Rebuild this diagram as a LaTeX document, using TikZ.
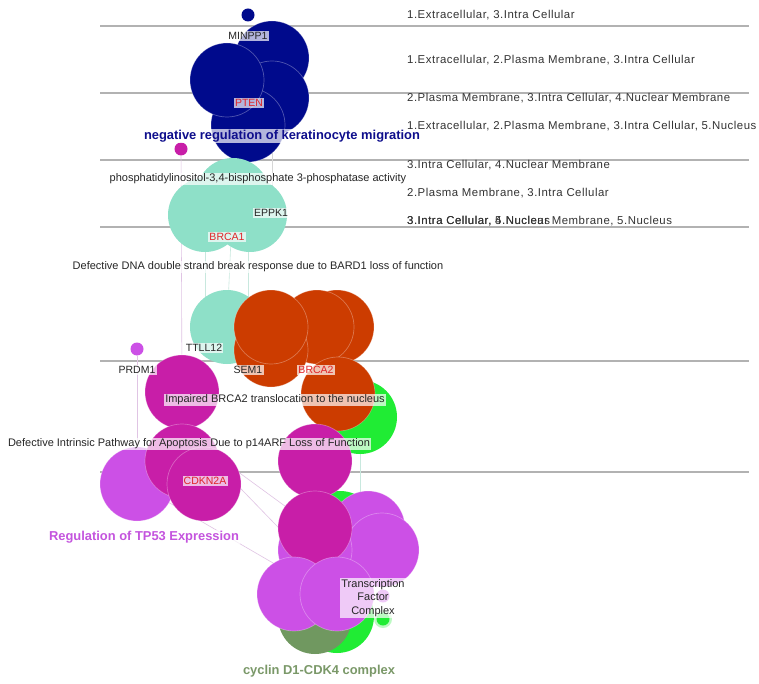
\documentclass[tikz,border=0pt]{standalone}
\usepackage{fontspec}
\setmainfont{Liberation Sans}
\newfontfamily\annfont[LetterSpace=4.5]{Liberation Sans}
\usetikzlibrary{backgrounds}

\definecolor{navy}{RGB}{0,10,140}
\definecolor{teal}{RGB}{142,224,200}
\definecolor{rust}{RGB}{204,60,0}
\definecolor{lime}{RGB}{32,236,52}
\definecolor{magenta}{RGB}{200,30,168}
\definecolor{lavender}{RGB}{204,80,230}
\definecolor{olive}{RGB}{112,152,96}
\definecolor{hitred}{RGB}{224,36,40}
\definecolor{navytext}{RGB}{14,14,140}
\definecolor{lavtext}{RGB}{196,84,222}
\definecolor{olivetext}{RGB}{122,152,104}
\definecolor{bandgray}{RGB}{178,178,178}
\definecolor{linklav}{RGB}{224,196,228}
\definecolor{linkteal}{RGB}{200,232,222}
\definecolor{linkgray}{RGB}{214,214,214}

\tikzset{
  gset/.style={circle, inner sep=0pt, minimum size=74pt, draw=white, draw opacity=0.3, line width=0.7pt},
  gdot/.style={circle, inner sep=0pt, minimum size=13pt},
  tag/.style={fill=white, fill opacity=0.7, text opacity=1, inner sep=1.2pt, text=black!85,
              font=\fontsize{10.5}{12}\selectfont},
  hit/.style={tag, text=hitred},
  term/.style={tag, font=\fontsize{11}{13}\selectfont},
  cluster/.style={tag, font=\bfseries\fontsize{12.9}{15}\selectfont},
  loc/.style={anchor=west, inner sep=0pt, text=black!80, font=\annfont\fontsize{11.4}{13}\selectfont},
  band/.style={draw=bandgray, line width=1.1pt},
  link/.style={line width=0.6pt},
}

\begin{document}
\begin{tikzpicture}[x=1pt,y=-1pt]
\useasboundingbox (0,0) rectangle (759,684);

% ---------- navy cluster ----------
\node[gdot, fill=navy] (nTop) at (248,15) {};
\node[gset, fill=navy] (nA) at (272,58) {};
\node[gset, fill=navy] (nC) at (272,98) {};
\node[gset, fill=navy] (nD) at (248,125) {};
\node[gset, fill=navy] (nB) at (227,80) {};

% ---------- teal cluster ----------
\node[gdot, fill=magenta] (dotA) at (181,149) {};
\node[gset, fill=teal, draw=none] (t2) at (233,195) {};
\node[gset, fill=teal, draw=none] (t1) at (205,215) {};
\node[gset, fill=teal, draw=none] (t3) at (250,215) {};

% ---------- rust cluster ----------
\node[gset, fill=teal, draw=none] (tt) at (227,327) {};
\node[gset, fill=rust] (o4) at (337,327) {};
\node[gset, fill=rust] (o3) at (317,327) {};
\node[gset, fill=rust] (o2) at (271,350) {};
\node[gset, fill=rust] (o1) at (271,327) {};
\node[gset, fill=lime, draw=none] (g1) at (360,417) {};
\node[gset, fill=rust] (o5) at (338,394) {};

% ---------- magenta / lavender cluster ----------
\node[gdot, fill=lavender] (dotP) at (137,349) {};
\node[gset, fill=magenta] (m1) at (182,392) {};
\node[gset, fill=lavender] (l0) at (137,484) {};
\node[gset, fill=magenta] (m2) at (182,461) {};
\node[gset, fill=magenta] (m3) at (204,484) {};

\node[gset, fill=lime, draw=none] (g2) at (340,528) {};
\node[gset, fill=lavender] (l1) at (368,528) {};
\node[gset, fill=lavender] (l2) at (382,550) {};
\node[gset, fill=lavender] (l5) at (315,550) {};
\node[gset, fill=magenta] (m4) at (315,461) {};
\node[gset, fill=magenta] (m5) at (315,528) {};

% ---------- cyclin D1-CDK4 complex ----------
\node[gset, fill=lime, draw=none] (g3) at (337,616) {};
\node[gset, fill=olive, draw=none] (ol) at (315,617) {};
\node[gset, fill=lavender] (l3) at (294,594) {};
\node[gset, fill=lavender] (l4) at (337,594) {};
\node[circle, inner sep=0pt, minimum size=18pt, fill=lime!30] (haloG) at (383,619) {};
\node[gdot, fill=lime] (dotG) at (383,619) {};
\node[gdot, fill=lavender] (dotL) at (383,596) {};

% ---------- labels ----------
\node[tag] (lbMINPP1) at (248,36) {MINPP1};
\node[hit] (lbPTEN) at (249,103) {PTEN};
\node[cluster, text=navytext] (lbKer) at (282,136) {negative regulation of keratinocyte migration};
\node[term] (lbPhos) at (258,179) {phosphatidylinositol-3,4-bisphosphate 3-phosphatase activity};
\node[tag] (lbEPPK1) at (271,213) {EPPK1};
\node[hit] (lbBRCA1) at (227,237) {BRCA1};
\node[term] (lbBARD) at (258,267) {Defective DNA double strand break response due to BARD1 loss of function};
\node[tag] (lbTTLL12) at (204,348) {TTLL12};
\node[tag] (lbPRDM1) at (137,370) {PRDM1};
\node[tag] (lbSEM1) at (248,370) {SEM1};
\node[hit] (lbBRCA2) at (316,370) {BRCA2};
\node[term] (lbImp) at (275,400) {Impaired BRCA2 translocation to the nucleus};
\node[term] (lbARF) at (189,444) {Defective Intrinsic Pathway for Apoptosis Due to p14ARF Loss of Function};
\node[hit] (lbCDKN2A) at (205,481) {CDKN2A};
\node[cluster, text=lavtext] (lbTP53) at (144,537) {Regulation of TP53 Expression};
\node[term, align=center, font=\fontsize{11}{13.5}\selectfont] (lbTFC) at (373,598) {Transcription\\Factor\\Complex};
\node[cluster, text=olivetext] (lbCyc) at (319,671) {cyclin D1-CDK4 complex};

% ---------- localisation column ----------
\node[loc] (loc1) at (407,15) {1.Extracellular, 3.Intra Cellular};
\node[loc] (loc2) at (407,60) {1.Extracellular, 2.Plasma Membrane, 3.Intra Cellular};
\node[loc] (loc3) at (407,98) {2.Plasma Membrane, 3.Intra Cellular, 4.Nuclear Membrane};
\node[loc] (loc4) at (407,126) {1.Extracellular, 2.Plasma Membrane, 3.Intra Cellular, 5.Nucleus};
\node[loc] (loc5) at (407,165) {3.Intra Cellular, 4.Nuclear Membrane};
\node[loc] (loc6) at (407,193) {2.Plasma Membrane, 3.Intra Cellular};
\node[loc] (loc7a) at (407,221) {3.Intra Cellular, 4.Nuclear Membrane, 5.Nucleus};
\node[loc] (loc7b) at (407,221) {3.Intra Cellular, 5.Nucleus};

% ---------- bands and links behind the sets ----------
\begin{pgfonlayer}{background}
  \fill[white] (0,0) rectangle (759,684);
  \foreach \yy in {26,93,160,227,361,472}
    \draw[band] (100,\yy) -- (749,\yy);
  \draw[link, linklav] (dotA) -- (m1);
  \draw[link, linkteal] (t1) -- (t1 |- tt);
  \draw[link, linkteal] (t2) -- (tt);
  \draw[link, linkteal] (nD) -- (nD |- o1);
  \draw[link, linkgray] (nC) -- (nC |- t3);
  \draw[link, linklav] (dotP) -- (l0);
  \draw[link, linklav] (l0) -- (l5.south);
  \coordinate (jA) at (215,455);
  \coordinate (jB) at (215,462);
  \draw[link, linklav] (jA) -- (m5);
  \draw[link, linklav] (jB) -- (m5.south);
  \draw[link, linkteal] (g1) -- (g1 |- g2);
\end{pgfonlayer}
\end{tikzpicture}
\end{document}
